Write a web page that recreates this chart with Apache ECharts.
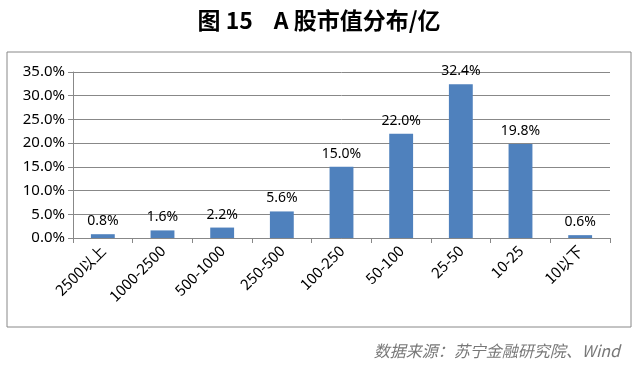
<!DOCTYPE html>
<html><head><meta charset="utf-8">
<script src="https://cdn.jsdelivr.net/npm/echarts@6/dist/echarts.min.js"></script>
<style>html,body{margin:0;padding:0;background:#fff}#c{width:638px;height:368px}</style>
</head><body><div id="c"></div>
<script>
const categories = ['2500以上','1000-2500','500-1000','250-500','100-250','50-100','25-50','10-25','10以下'];
const values = [0.8, 1.6, 2.2, 5.6, 15.0, 22.0, 32.4, 19.8, 0.6];
const titleText = '图 15    A 股市值分布/亿';
const sourceText = '数据来源：苏宁金融研究院、Wind';

const chart = echarts.init(document.getElementById('c'));
chart.setOption({
  animation: false,
  title: {
    text: titleText, left: 'center', top: 4,
    textStyle: {fontSize: 23, fontWeight: 'bold', color: '#000', fontFamily: 'Noto Sans CJK SC'}
  },
  graphic: [
    {type: 'rect', shape: {x: 7, y: 52, width: 624, height: 275}, style: {fill: 'none', stroke: '#888', lineWidth: 1}},
    {type: 'text', right: 18, top: 343, style: {text: sourceText, fill: '#777', font: 'italic 16px "Noto Sans CJK SC"'}}
  ],
  grid: {left: 73, right: 28, top: 72, bottom: 130},
  xAxis: {
    type: 'category', data: categories,
    axisLine: {lineStyle: {color: '#888'}},
    axisTick: {show: true, alignWithLabel: false, length: 5, lineStyle: {color: '#888'}},
    axisLabel: {rotate: 45, color: '#000', fontSize: 15, fontFamily: 'Noto Sans CJK SC', margin: 10, interval: 0}
  },
  yAxis: {
    type: 'value', min: 0, max: 35, interval: 5,
    axisLine: {show: true, lineStyle: {color: '#888'}},
    axisTick: {show: true, length: 5, lineStyle: {color: '#888'}},
    splitLine: {lineStyle: {color: '#888'}},
    axisLabel: {formatter: v => v.toFixed(1) + '%', color: '#000', fontSize: 15, fontFamily: 'Noto Sans', margin: 8}
  },
  series: [{
    type: 'bar', data: values, barWidth: '40%',
    itemStyle: {color: '#4f81bd'},
    label: {show: true, position: 'top', formatter: p => p.value.toFixed(1) + '%', color: '#000', fontSize: 14, fontFamily: 'Noto Sans', distance: 6}
  }]
});
</script></body></html>
